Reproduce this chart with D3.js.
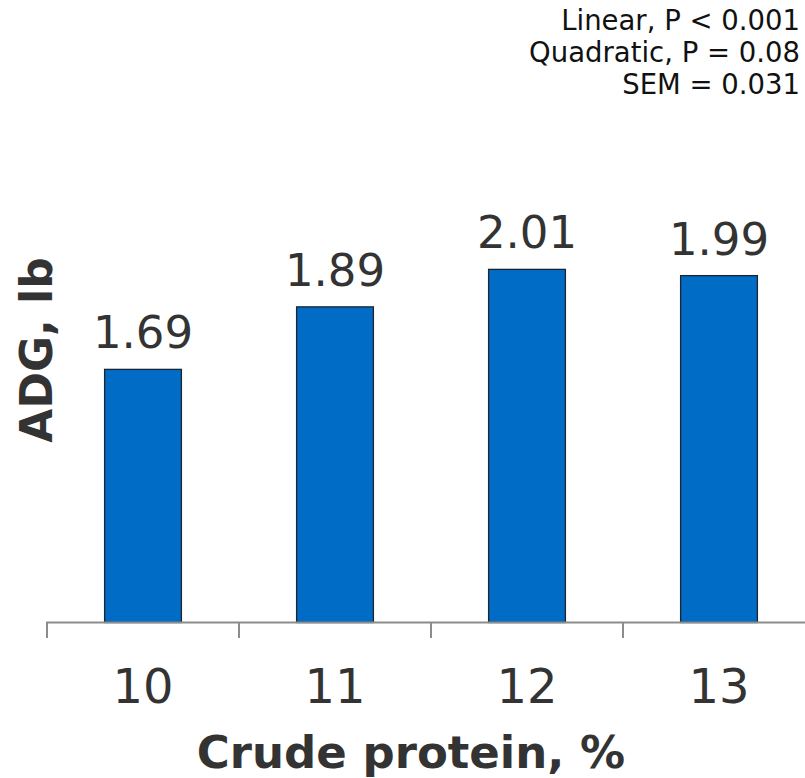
<!DOCTYPE html>
<html>
<head>
<meta charset="utf-8">
<script src="https://cdn.jsdelivr.net/npm/d3@7"></script>
<style>
  html, body { margin: 0; padding: 0; background: #fff; }
  svg { display: block; font-family: "DejaVu Sans", Verdana, sans-serif; }
</style>
</head>
<body>
<svg id="chart" width="805" height="778"></svg>
<script>
const categories = ["10", "11", "12", "13"];
const values = [1.69, 1.89, 2.01, 1.99];
const valueLabels = ["1.69", "1.89", "2.01", "1.99"];
const statsLines = ["Linear, P < 0.001", "Quadratic, P = 0.08", "SEM = 0.031"];
const xTitle = "Crude protein, %";
const yTitle = "ADG, lb";

const svg = d3.select("#chart");
const textColor = "#333333";

const baseY = 622.5;
const x = d3.scaleBand()
  .domain(categories)
  .range([47, 815])
  .paddingInner(0.6)
  .paddingOuter(0.3);

const y = d3.scaleLinear()
  .domain([0.88, 2.4])
  .range([baseY, baseY - 1.52 * 312.5]);

// bars
svg.append("g").selectAll("rect")
  .data(values)
  .join("rect")
  .attr("x", (d, i) => x(categories[i]))
  .attr("y", d => y(d))
  .attr("width", x.bandwidth())
  .attr("height", d => baseY - y(d))
  .attr("fill", "#006CC6")
  .attr("stroke", "#1c2430")
  .attr("stroke-width", 1.3);

// value labels
svg.append("g").selectAll("text")
  .data(values)
  .join("text")
  .attr("x", (d, i) => x(categories[i]) + x.bandwidth() / 2)
  .attr("y", d => y(d) - 21)
  .attr("text-anchor", "middle")
  .attr("font-size", 45)
  .attr("fill", textColor)
  .text((d, i) => valueLabels[i]);

// x axis
const step = x.step();
const axisG = svg.append("g");
axisG.append("line")
  .attr("x1", 46).attr("x2", 805)
  .attr("y1", baseY).attr("y2", baseY)
  .attr("stroke", "#8c8c8c").attr("stroke-width", 2);
const tickXs = categories.map(c => x(c) - x.paddingOuter() * step).concat([x(categories[categories.length - 1]) - x.paddingOuter() * step + step]);
axisG.selectAll("line.tick")
  .data(tickXs)
  .join("line")
  .attr("class", "tick")
  .attr("x1", d => d).attr("x2", d => d)
  .attr("y1", baseY).attr("y2", 638)
  .attr("stroke", "#8c8c8c").attr("stroke-width", 2);
axisG.selectAll("text")
  .data(categories)
  .join("text")
  .attr("x", d => x(d) + x.bandwidth() / 2)
  .attr("y", 703)
  .attr("text-anchor", "middle")
  .attr("font-size", 48)
  .attr("fill", textColor)
  .text(d => d);

// axis titles
svg.append("text")
  .attr("x", 411)
  .attr("y", 768)
  .attr("text-anchor", "middle")
  .attr("font-size", 45)
  .attr("font-weight", "bold")
  .attr("fill", textColor)
  .text(xTitle);

svg.append("text")
  .attr("transform", "translate(52,350) rotate(-90)")
  .attr("text-anchor", "middle")
  .attr("font-size", 44)
  .attr("font-weight", "bold")
  .attr("fill", textColor)
  .text(yTitle);

// stats annotation
svg.append("g").selectAll("text")
  .data(statsLines)
  .join("text")
  .attr("x", 800)
  .attr("y", (d, i) => 30 + i * 32)
  .attr("text-anchor", "end")
  .attr("font-size", 27.5)
  .attr("fill", "#111111")
  .text(d => d);
</script>
</body>
</html>
